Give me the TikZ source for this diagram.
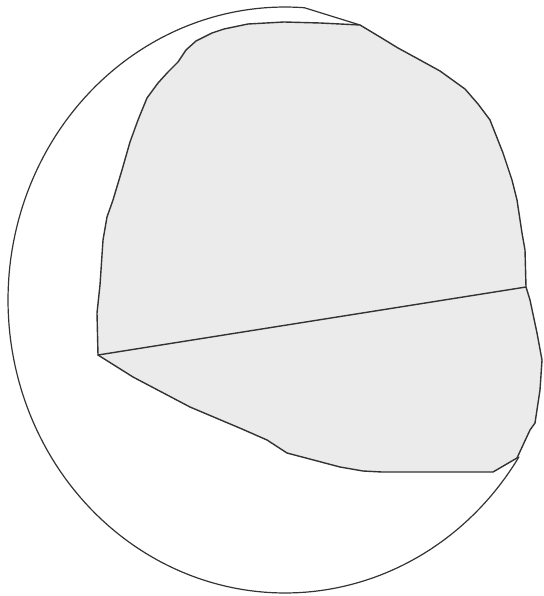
\documentclass[tikz,border=0pt]{standalone}
\definecolor{shade}{HTML}{EBEBEB}
\definecolor{ink}{HTML}{333333}
\begin{document}
\begin{tikzpicture}[x=1pt,y=-1pt,
  outline/.style={draw=ink,line width=1.4pt,line join=round,line cap=round}]
\useasboundingbox (0,0) rectangle (543,596);
\fill[white] (0,0) rectangle (543,596);
% outer rim
\draw[outline,line width=1.2pt] (360,25) -- plot[domain=86:327.6,samples=150] ({285+277*cos(\x)},{300-293*sin(\x)});
% grey region
\draw[outline,fill=shade] (98,355) -- (97,313) -- (100,285) -- (103,240) -- (107,217) -- (113,200)
  -- (122,170) -- (130,142) -- (138,120) -- (147,98) -- (158,83) -- (168,72) -- (178,62)
  -- (186,50) -- (196,41) -- (212,33) -- (224,29) -- (248,24) -- (284,22) -- (320,23)
  -- (360,25) -- (380,37) -- (398,48) -- (420,60) -- (440,71) -- (465,89) -- (478,104)
  -- (490,120) -- (503,153) -- (512,180) -- (517,200) -- (522,233) -- (525,250)
  -- (526,287) -- (530,300) -- (537,333) -- (542,360) -- (540,390) -- (535,423)
  -- (530,430) -- (517,458) -- (493,472) -- (382,472) -- (363,471) -- (340,467)
  -- (287,453) -- (267,440) -- (242,429) -- (190,407) -- (133,377) -- cycle;
\coordinate (A) at (98,355);
\coordinate (D) at (526,287);
\draw[outline] (A) -- (D);
\end{tikzpicture}
\end{document}
